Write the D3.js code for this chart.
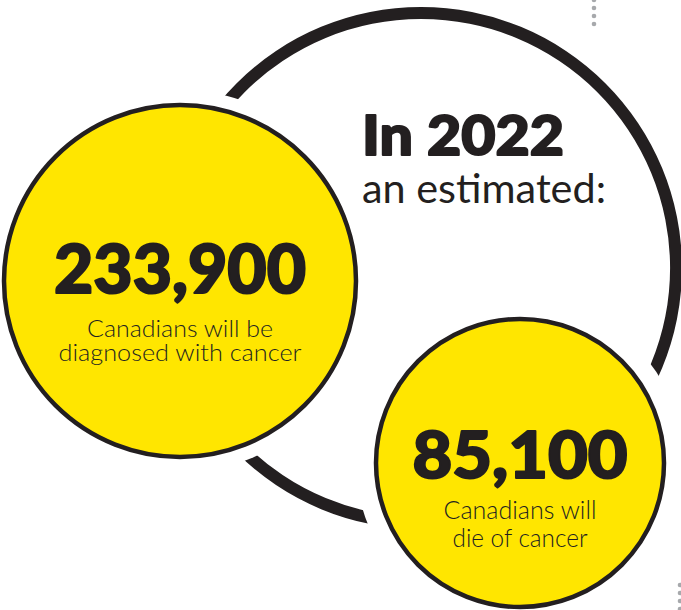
<!DOCTYPE html>
<html>
<head>
<meta charset="utf-8">
<script src="https://cdn.jsdelivr.net/npm/d3@7"></script>
<style>
  html, body { margin: 0; padding: 0; background: #fff; }
  svg { display: block; }
</style>
</head>
<body>
<div id="chart"></div>
<script>
// ---- data ----
const headline = ["In 2022", "an estimated:"];
const figures = ["233,900", "85,100"];
const figureValues = [233900, 85100];
const captions = [
  ["Canadians will be", "diagnosed with cancer"],
  ["Canadians will", "die of cancer"]
];

// ---- layout ----
const W = 681, H = 610;
const ink = "#231f20", yellow = "#ffe600", dotGrey = "#a7a9ac";
const ring = { cx: 421, cy: 268, r: 255, w: 12 };
const bubbles = [
  { cx: 180, cy: 281, r: 176, halo: 191, numY: 293, numSize: 66, numLen: 252,
    capY: [337, 361], capSize: 24, capLen: [186, 243] },
  { cx: 520, cy: 463, r: 144, halo: 164, numY: 478, numSize: 64, numLen: 215,
    capY: [519, 547], capSize: 25, capLen: [153, 135] }
];

const svg = d3.select("#chart").append("svg")
  .attr("width", W).attr("height", H);

// outer ring
svg.append("path")
  .attr("transform", `translate(${ring.cx},${ring.cy})`)
  .attr("d", d3.arc()({ innerRadius: ring.r - ring.w / 2, outerRadius: ring.r + ring.w / 2, startAngle: 0, endAngle: 2 * Math.PI }))
  .attr("fill", ink);

// halos (white gap)
svg.selectAll("circle.halo").data(bubbles).join("circle")
  .attr("class", "halo")
  .attr("cx", d => d.cx).attr("cy", d => d.cy).attr("r", d => d.halo)
  .attr("fill", "#fff");

// bubbles
svg.selectAll("circle.bubble").data(bubbles).join("circle")
  .attr("class", "bubble")
  .attr("cx", d => d.cx).attr("cy", d => d.cy).attr("r", d => d.r)
  .attr("fill", yellow).attr("stroke", ink).attr("stroke-width", 4.5);

// numbers
svg.selectAll("text.num").data(bubbles).join("text")
  .attr("class", "num")
  .attr("x", d => d.cx).attr("y", d => d.numY)
  .attr("text-anchor", "middle")
  .attr("font-family", "Lato, sans-serif").attr("font-weight", 900)
  .attr("font-size", d => d.numSize).attr("fill", ink)
  .attr("stroke", ink).attr("stroke-width", 2).attr("stroke-linejoin", "round")
  .attr("textLength", d => d.numLen).attr("lengthAdjust", "spacingAndGlyphs")
  .text((d, i) => figures[i]);

// captions
bubbles.forEach((b, i) => {
  captions[i].forEach((line, j) => {
    svg.append("text")
      .attr("x", b.cx).attr("y", b.capY[j])
      .attr("text-anchor", "middle")
      .attr("font-family", "Lato, sans-serif").attr("font-weight", 300)
      .attr("font-size", b.capSize).attr("fill", ink)
      .attr("textLength", b.capLen[j]).attr("lengthAdjust", "spacingAndGlyphs")
      .text(line);
  });
});

// headline
svg.append("text").attr("x", 362).attr("y", 155)
  .attr("font-family", "Lato, sans-serif").attr("font-weight", 900)
  .attr("font-size", 56).attr("fill", ink)
  .attr("stroke", ink).attr("stroke-width", 2).attr("stroke-linejoin", "round")
  .attr("textLength", 202).attr("lengthAdjust", "spacingAndGlyphs")
  .text(headline[0]);
svg.append("text").attr("x", 362).attr("y", 203)
  .attr("font-family", "Lato, sans-serif").attr("font-weight", 400)
  .attr("font-size", 41).attr("fill", ink)
  .attr("textLength", 244).attr("lengthAdjust", "spacingAndGlyphs")
  .text(headline[1]);

// dotted fold marks
const topDots = [0, 8, 16, 24];
const botDots = [585, 593, 601, 609];
svg.selectAll("circle.td").data(topDots).join("circle")
  .attr("cx", 594).attr("cy", d => d).attr("r", 2.3).attr("fill", dotGrey);
svg.selectAll("circle.bd").data(botDots).join("circle")
  .attr("cx", 680).attr("cy", d => d).attr("r", 2.3).attr("fill", dotGrey);
</script>
</body>
</html>
